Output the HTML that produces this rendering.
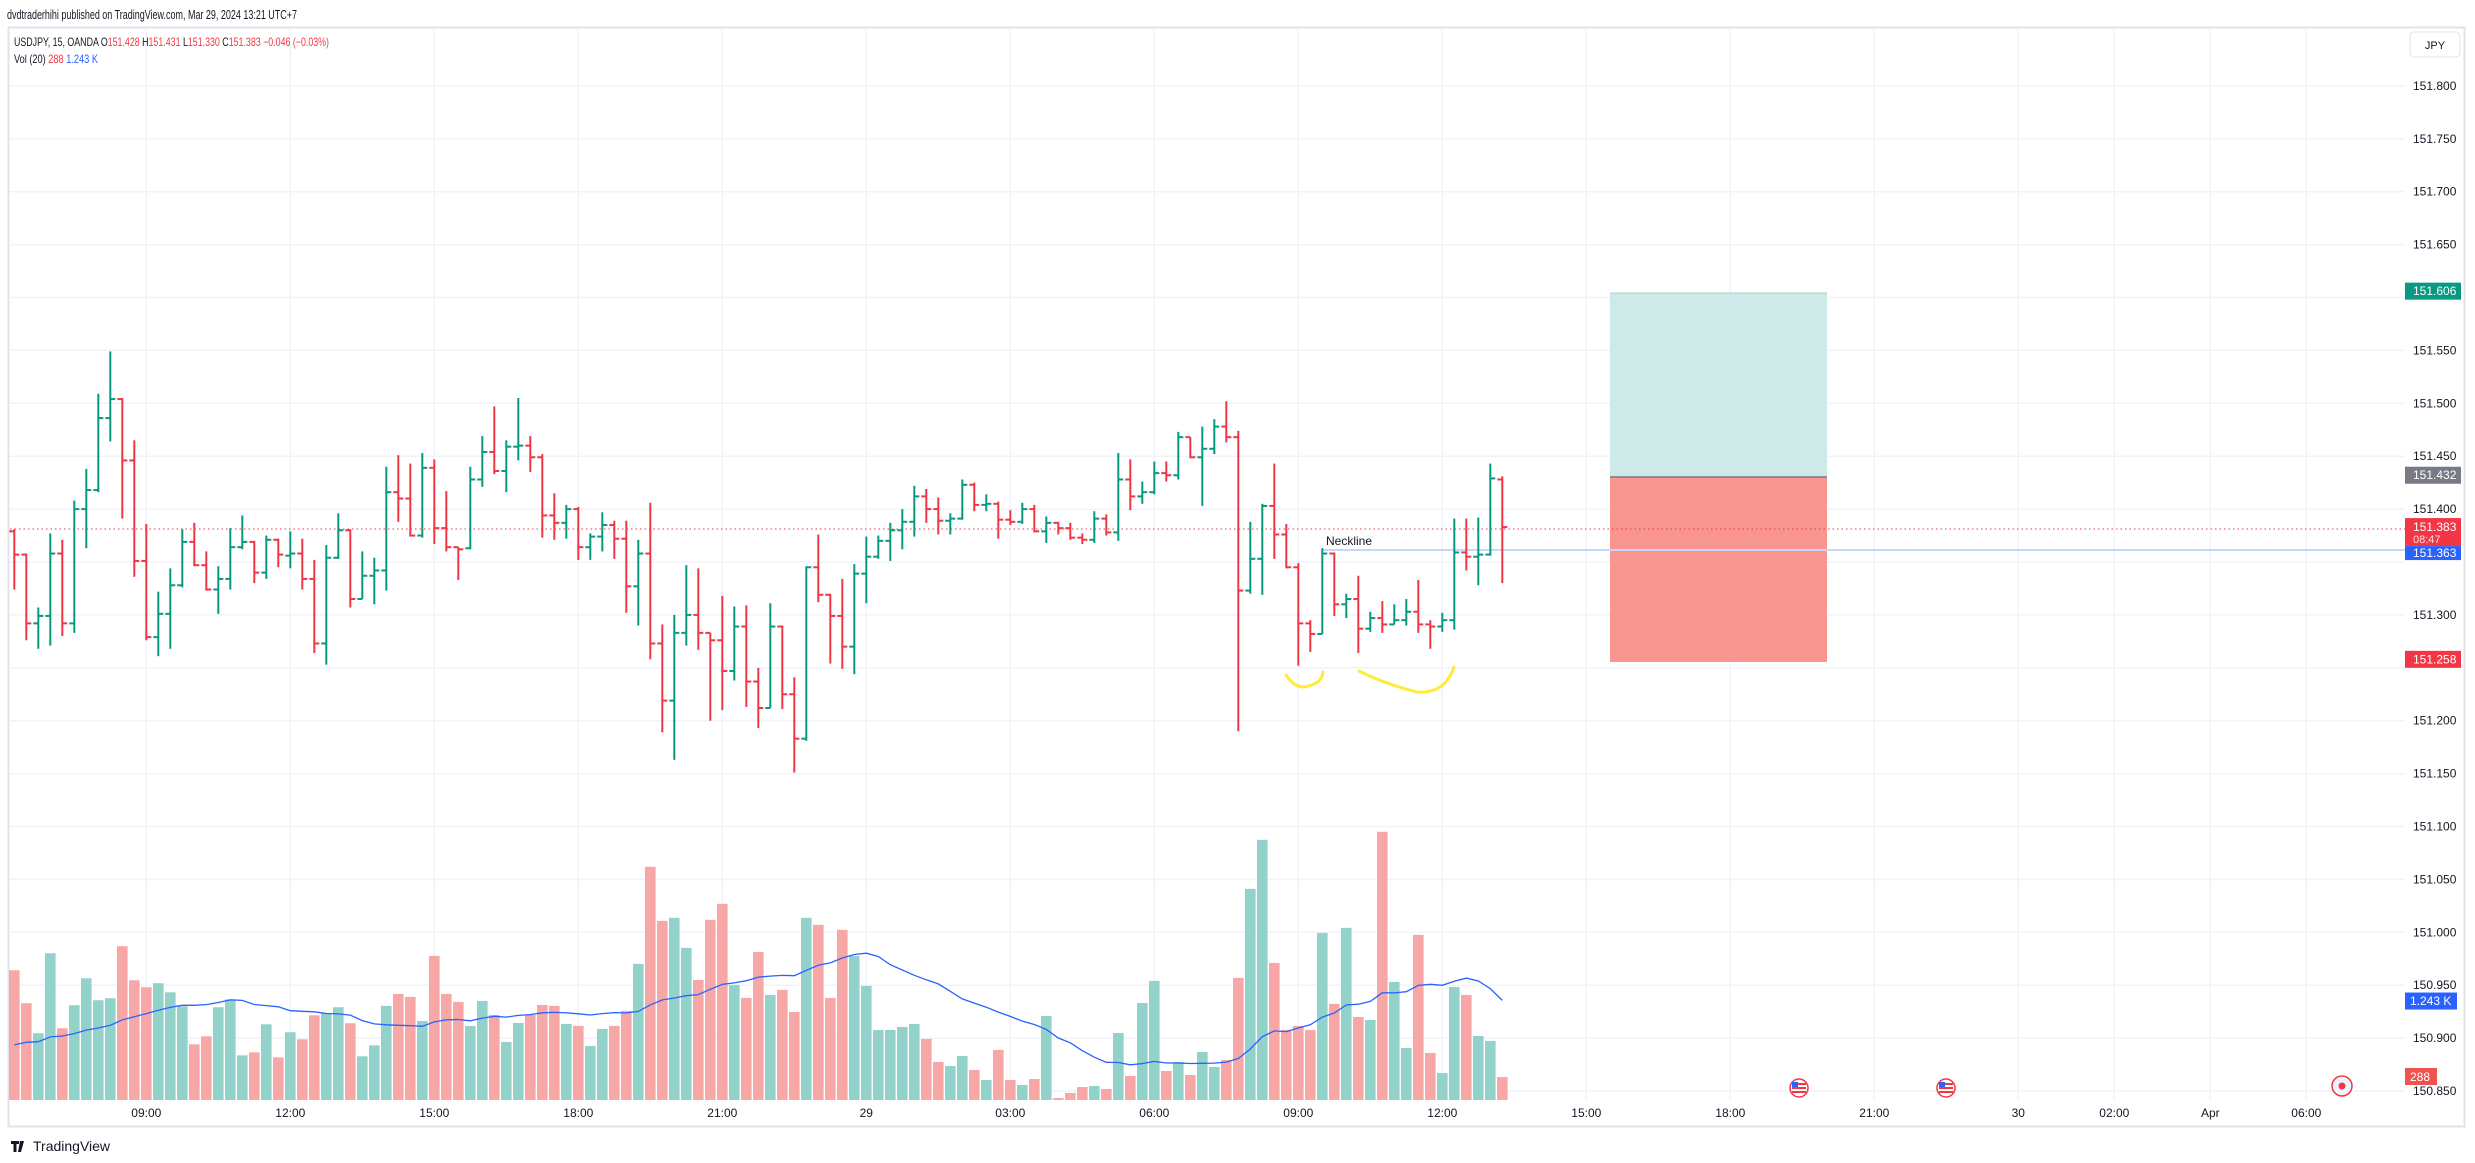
<!DOCTYPE html>
<html><head><meta charset="utf-8"><title>USDJPY 15 OANDA</title>
<style>
html,body{margin:0;padding:0;background:#fff;}
svg{display:block;font-family:"Liberation Sans",sans-serif;}
</style></head>
<body>
<svg id="chart" width="2475" height="1163" viewBox="0 0 2475 1163" xmlns="http://www.w3.org/2000/svg">
<rect x="0" y="0" width="2475" height="1163" fill="#fff"/>
<text x="7" y="19" font-size="13" fill="#131722" textLength="290" lengthAdjust="spacingAndGlyphs">dvdtraderhihi published on TradingView.com, Mar 29, 2024 13:21 UTC+7</text>
<rect x="8.5" y="27.5" width="2456" height="1099" fill="none" stroke="#e0e3eb" stroke-width="2"/>
<g id="grid"></g>
<g id="volume"></g>
<g id="position">
  <rect x="1610" y="293" width="217" height="184" fill="#cdeae8"/>
  <rect x="1610" y="477" width="217" height="185" fill="#f8958f"/>
  <line x1="1610" y1="293" x2="1827" y2="293" stroke="#9fd3cf" stroke-width="1"/>
  <line x1="1610" y1="477" x2="1827" y2="477" stroke="#787b86" stroke-width="1.5"/>
</g>
<line x1="10" y1="529" x2="2405" y2="529" stroke="#f23645" stroke-width="1" stroke-dasharray="1.5,3"/>
<line x1="1322" y1="550" x2="2405" y2="550" stroke="#c9d6fb" stroke-width="2"/>
<text x="1326" y="545" font-size="12" fill="#131722">Neckline</text>
<g id="bars"></g>
<path d="M1286 675 Q1296 690 1308 686 Q1322 683 1323 672" fill="none" stroke="#ffeb3b" stroke-width="3" stroke-linecap="round"/>
<path d="M1359 671 Q1385 684 1417 692 Q1445 694 1454 667" fill="none" stroke="#ffeb3b" stroke-width="3" stroke-linecap="round"/>
<g id="legend">
  <text x="14" y="46" font-size="12" textLength="315" lengthAdjust="spacingAndGlyphs"><tspan fill="#131722">USDJPY, 15, OANDA  O</tspan><tspan fill="#f23645">151.428</tspan><tspan fill="#131722">  H</tspan><tspan fill="#f23645">151.431</tspan><tspan fill="#131722">  L</tspan><tspan fill="#f23645">151.330</tspan><tspan fill="#131722">  C</tspan><tspan fill="#f23645">151.383  −0.046 (−0.03%)</tspan></text>
  <text x="14" y="63" font-size="12" textLength="84" lengthAdjust="spacingAndGlyphs"><tspan fill="#131722">Vol (20)  </tspan><tspan fill="#f23645">288  </tspan><tspan fill="#2962ff">1.243 K</tspan></text>
</g>
<g id="yaxis"></g>
<g id="xaxis"></g>
<rect x="2410" y="32" width="50" height="25" rx="4" fill="#fff" stroke="#e0e3eb"/>
<text x="2435" y="49" font-size="11" fill="#131722" text-anchor="middle">JPY</text>
<g><circle cx="1799" cy="1088" r="9" fill="#fff" stroke="#f23645" stroke-width="1.5"/><rect x="1792" y="1083" width="14" height="2" fill="#f23645"/><rect x="1792" y="1087" width="14" height="2" fill="#f23645"/><rect x="1792" y="1091" width="14" height="2" fill="#f23645"/><rect x="1792" y="1082" width="6" height="5" fill="#2962ff"/></g>
<g><circle cx="1946" cy="1088" r="9" fill="#fff" stroke="#f23645" stroke-width="1.5"/><rect x="1939" y="1083" width="14" height="2" fill="#f23645"/><rect x="1939" y="1087" width="14" height="2" fill="#f23645"/><rect x="1939" y="1091" width="14" height="2" fill="#f23645"/><rect x="1939" y="1082" width="6" height="5" fill="#2962ff"/></g>
<g><circle cx="2342" cy="1086" r="10" fill="#f0f3fa" stroke="#f23645" stroke-width="1.5"/><circle cx="2342" cy="1086" r="3.5" fill="#f23645"/></g>
<g><path d="M11 1141h8v3h-2.5v8h-3v-8h-2.5z M20 1141h4l-3 11h-3z" fill="#131722"/><text x="33" y="1151" font-size="14" fill="#131722">TradingView</text></g>
</svg>
<script>
// ---- data ----
const times = ["09:00","12:00","15:00","18:00","21:00","29","03:00","06:00","09:00","12:00","15:00","18:00","21:00","30","02:00","Apr","06:00"];
const timeIdx = [11,23,35,47,59,71,83,95,107,119,131,143,155,167,175,183,191];
const priceTicks = [150.85,150.90,150.95,151.00,151.05,151.10,151.15,151.20,151.25,151.30,151.35,151.40,151.45,151.50,151.55,151.60,151.65,151.70,151.75,151.80];
const opens = [151.379,151.357,151.292,151.299,151.358,151.292,151.400,151.418,151.486,151.504,151.446,151.351,151.279,151.301,151.328,151.369,151.347,151.324,151.334,151.364,151.369,151.340,151.371,151.356,151.358,151.334,151.273,151.354,151.380,151.315,151.337,151.342,151.416,151.410,151.375,151.439,151.382,151.364,151.363,151.428,151.454,151.436,151.459,151.460,151.449,151.394,151.387,151.400,151.364,151.374,151.385,151.372,151.327,151.358,151.273,151.219,151.283,151.300,151.283,151.276,151.247,151.289,151.237,151.212,151.289,151.225,151.183,151.345,151.319,151.299,151.270,151.339,151.355,151.370,151.380,151.388,151.412,151.400,151.389,151.391,151.423,151.404,151.405,151.390,151.388,151.400,151.379,151.387,151.382,151.373,151.371,151.391,151.378,151.428,151.412,151.416,151.434,151.432,151.468,151.449,151.457,151.478,151.468,151.323,151.353,151.403,151.376,151.345,151.292,151.282,151.358,151.310,151.315,151.287,151.297,151.291,151.295,151.303,151.291,151.289,151.295,151.359,151.355,151.357,151.428];
const highs = [151.381,151.358,151.307,151.377,151.371,151.408,151.438,151.509,151.549,151.505,151.465,151.386,151.322,151.344,151.381,151.387,151.360,151.346,151.382,151.394,151.370,151.375,151.372,151.379,151.372,151.352,151.366,151.396,151.381,151.360,151.354,151.440,151.451,151.443,151.453,151.447,151.417,151.364,151.440,151.469,151.497,151.465,151.505,151.469,151.452,151.415,151.404,151.402,151.377,151.397,151.389,151.389,151.371,151.406,151.291,151.300,151.347,151.344,151.283,151.318,151.308,151.309,151.250,151.311,151.290,151.241,151.346,151.376,151.320,151.334,151.348,151.374,151.375,151.387,151.400,151.422,151.419,151.411,151.396,151.428,151.425,151.414,151.407,151.399,151.406,151.404,151.393,151.388,151.387,151.377,151.398,151.395,151.453,151.447,151.426,151.445,151.445,151.473,151.468,151.478,151.485,151.502,151.474,151.388,151.405,151.443,151.386,151.349,151.295,151.363,151.359,151.320,151.337,151.303,151.313,151.310,151.315,151.333,151.295,151.302,151.391,151.391,151.392,151.443,151.431];
const lows = [151.324,151.276,151.268,151.271,151.280,151.283,151.363,151.416,151.464,151.391,151.336,151.276,151.261,151.268,151.326,151.346,151.323,151.301,151.324,151.362,151.330,151.334,151.345,151.344,151.324,151.264,151.253,151.353,151.307,151.315,151.310,151.323,151.388,151.374,151.373,151.367,151.360,151.333,151.362,151.421,151.433,151.416,151.446,151.435,151.373,151.371,151.372,151.352,151.352,151.360,151.353,151.302,151.290,151.258,151.189,151.163,151.271,151.267,151.200,151.210,151.238,151.213,151.193,151.212,151.211,151.151,151.181,151.312,151.254,151.249,151.244,151.311,151.353,151.351,151.362,151.374,151.387,151.376,151.376,151.390,151.398,151.398,151.372,151.385,151.386,151.378,151.368,151.376,151.371,151.367,151.368,151.375,151.370,151.399,151.405,151.414,151.426,151.428,151.448,151.403,151.452,151.463,151.190,151.320,151.319,151.353,151.344,151.252,151.265,151.282,151.299,151.297,151.264,151.284,151.283,151.291,151.290,151.283,151.268,151.284,151.286,151.342,151.328,151.356,151.330];
const closes = [151.357,151.292,151.299,151.358,151.292,151.400,151.418,151.486,151.504,151.446,151.351,151.279,151.301,151.328,151.369,151.347,151.324,151.334,151.364,151.369,151.340,151.371,151.357,151.358,151.334,151.273,151.354,151.380,151.315,151.337,151.342,151.416,151.410,151.375,151.439,151.382,151.364,151.362,151.428,151.454,151.436,151.459,151.460,151.449,151.394,151.387,151.400,151.364,151.374,151.385,151.372,151.327,151.358,151.273,151.219,151.283,151.300,151.283,151.276,151.247,151.289,151.237,151.212,151.289,151.225,151.183,151.345,151.319,151.299,151.270,151.339,151.355,151.370,151.380,151.388,151.412,151.400,151.389,151.391,151.423,151.404,151.405,151.390,151.388,151.400,151.379,151.387,151.382,151.373,151.371,151.391,151.378,151.428,151.412,151.416,151.434,151.432,151.468,151.449,151.457,151.478,151.468,151.323,151.353,151.403,151.376,151.345,151.292,151.282,151.358,151.310,151.315,151.287,151.297,151.291,151.295,151.303,151.291,151.289,151.295,151.359,151.355,151.357,151.429,151.383];
const volumes = [1630,1215,838,1844,901,1190,1529,1253,1278,1932,1504,1416,1467,1353,1177,700,800,1165,1265,561,599,951,536,851,763,1064,1089,1165,964,549,687,1182,1332,1295,993,1810,1332,1232,930,1244,1068,729,968,1068,1194,1182,955,930,679,892,930,1119,1710,2929,2250,2288,1911,1508,2263,2464,1446,1282,1860,1320,1383,1106,2288,2200,1282,2137,1810,1433,880,880,918,955,767,478,427,553,377,251,629,251,189,264,1056,25,88,163,176,138,842,302,1219,1496,365,478,314,603,415,503,1534,2652,3268,1722,880,930,880,2099,1207,2162,1043,1006,3369,1483,654,2074,591,339,1420,1320,804,742,288];
const priorVolumes = [560,700,620,680,590,650,720,610,580,690,640,600,670,630,700,620,660,610,680];
const maPeriod = 20;

// ---- scales ----
const PLOT_L = 10, PLOT_R = 2405, PLOT_T = 28, PLOT_B = 1100;
function xAt(i){ return 14.3 + 12 * i; }
function yPrice(p){ return 1091 - (p - 150.85) * 1058; }
function yVol(v){ return 1100 - v / 12.56; }
const NS = "http://www.w3.org/2000/svg";
function mk(tag, attrs, parent){ const e = document.createElementNS(NS, tag); for (const k in attrs) e.setAttribute(k, attrs[k]); parent.appendChild(e); return e; }

// grid
const grid = document.getElementById('grid');
priceTicks.forEach(function(p){
  const y = yPrice(p);
  const ln = mk('line', {x1: PLOT_L, x2: PLOT_R, y1: y, y2: y, stroke: '#f0f3fa', 'stroke-width': 1.5}, grid);
  
  
});
timeIdx.forEach(function(i){
  const x = xAt(i);
  const ln = mk('line', {x1: x, x2: x, y1: PLOT_T, y2: PLOT_B, stroke: '#f0f3fa', 'stroke-width': 1.5}, grid);
  
  
});

// volume bars
const vg = document.getElementById('volume');
volumes.forEach(function(v, i){
  const up = closes[i] >= opens[i];
  const x = xAt(i);
  const r = mk('rect', {x: x - 5.3, y: yVol(v), width: 10.6, height: 1100 - yVol(v), fill: up ? '#93d2cb' : '#f6a7a6'}, vg);
  
  
});
// volume MA
const allVol = priorVolumes.concat(volumes);
let pts = [];
for (let i = 0; i < volumes.length; i++) {
  let s = 0;
  for (let k = 0; k < maPeriod; k++) s += allVol[i + priorVolumes.length - k];
  pts.push(xAt(i).toFixed(1) + ',' + yVol(s / maPeriod).toFixed(1));
}
const ma = mk('polyline', {points: pts.join(' '), fill: 'none', stroke: '#2962ff', 'stroke-width': 1.3}, vg);



// OHLC bars
const bg = document.getElementById('bars');
opens.forEach(function(o, i){
  const c = closes[i], h = highs[i], l = lows[i];
  const col = c >= o ? '#089981' : '#f23645';
  const x = xAt(i);
  const g = mk('g', {fill: col}, bg);
  
  
  const yh = yPrice(h), yl = yPrice(l);
  mk('rect', {x: x - 1, y: yh, width: 2, height: Math.max(1, yl - yh)}, g);
  mk('rect', {x: x - 5, y: yPrice(o) - 1, width: 5, height: 2}, g);
  mk('rect', {x: x, y: yPrice(c) - 1, width: 5, height: 2}, g);
});

// price axis
const ya = document.getElementById('yaxis');
const hidden = [151.60, 151.25, 151.35];
priceTicks.forEach(function(p){
  if (hidden.some(function(q){ return Math.abs(q - p) < 1e-6; })) return;
  const t = mk('text', {x: 2413, y: yPrice(p) + 4, 'font-size': 12, fill: '#131722'}, ya);
  t.textContent = p.toFixed(3);
  
  
});
const tagPrices = [151.606, 151.432, 151.258];
const tagColors = ['#089981', '#787b86', '#f23645'];
tagPrices.forEach(function(p, k){
  const y = yPrice(p);
  const r = mk('rect', {x: 2405, y: y - 8.5, width: 56, height: 17, fill: tagColors[k]}, ya);
  
  
  const t = mk('text', {x: 2413, y: y + 4, 'font-size': 12, fill: '#fff'}, ya);
  t.textContent = p.toFixed(3);
  
  
});
const lastY = yPrice(closes[closes.length - 1]);
const lr = mk('rect', {x: 2405, y: lastY - 9, width: 56, height: 28, fill: '#f23645'}, ya);


const lt = mk('text', {x: 2413, y: lastY + 4, 'font-size': 12, fill: '#fff'}, ya);
lt.textContent = closes[closes.length - 1].toFixed(3);


const ct = mk('text', {x: 2413, y: lastY + 16, 'font-size': 11, fill: '#fdd'}, ya);
ct.textContent = '08:47';


const nr = mk('rect', {x: 2405, y: lastY + 19, width: 56, height: 14, fill: '#2962ff'}, ya);


const nt = mk('text', {x: 2413, y: lastY + 30, 'font-size': 12, fill: '#fff'}, ya);
nt.textContent = '151.363';


// volume tags
const maLast = 1243;
const vr = mk('rect', {x: 2405, y: yVol(maLast) - 8.5, width: 52, height: 17, fill: '#2962ff'}, ya);


const vt = mk('text', {x: 2410, y: yVol(maLast) + 4, 'font-size': 12, fill: '#fff'}, ya);
vt.textContent = '1.243 K';


const lastV = volumes[volumes.length - 1];
const vr2 = mk('rect', {x: 2405, y: 1068, width: 32, height: 17, fill: '#ef5350'}, ya);


const vt2 = mk('text', {x: 2410, y: 1081, 'font-size': 12, fill: '#fff'}, ya);
vt2.textContent = String(lastV);



// time axis
const xa = document.getElementById('xaxis');
times.forEach(function(lbl, k){
  const t = mk('text', {x: xAt(timeIdx[k]), y: 1117, 'font-size': 12, fill: '#131722', 'text-anchor': 'middle'}, xa);
  t.textContent = lbl;
  
  
});
</script>
</body></html>
